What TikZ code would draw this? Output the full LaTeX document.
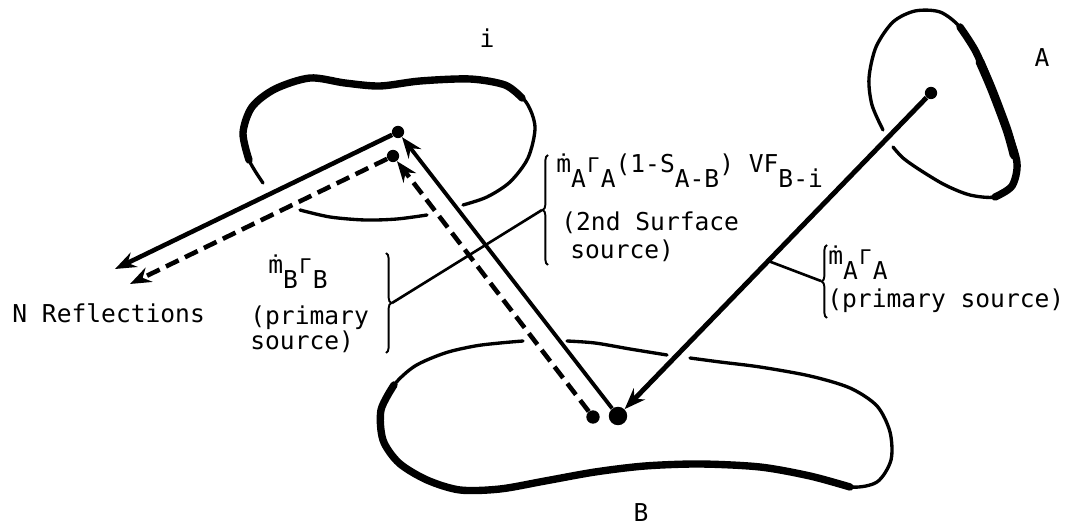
\documentclass[tikz,border=0pt]{standalone}
\usepackage{fontspec}
\setmonofont{DejaVu Sans Mono}
\usetikzlibrary{arrows.meta,calc,decorations.pathreplacing}
\newcommand{\sub}[1]{\raisebox{-0.6em}{#1}}
\newcommand{\gm}{\makebox[0.602em]{\scalebox{0.82}{Γ}}}

\begin{document}
\begin{tikzpicture}[x=0.02cm, y=-0.02cm,
      srf/.style={line width=1.9pt, line cap=round},
      srfthick/.style={line width=4.2pt, line cap=round},
      ray/.style={line width=2.6pt, -{Stealth[length=12pt,width=9pt,inset=4pt]}},
      dray/.style={ray, dash pattern=on 8pt off 4pt},
      dot/.style={circle, fill, inner sep=0pt, minimum size=7pt},
      bigdot/.style={dot, minimum size=10.5pt},
      lbl/.style={font=\ttfamily\fontsize{14}{16}\selectfont, inner sep=0pt, anchor=base west},
      brc/.style={line width=1.1pt, decorate, decoration={brace, amplitude=3pt}},
      ldr/.style={line width=1.5pt}
    ]
    \useasboundingbox (0,0) rectangle (1086,526);
    % surfaces
    \draw[srf] plot[smooth] coordinates {(263,183) (249,160) (243,133) (252,107) (275,89) (310,78) (345,83) (380,86) (420,81) (470,79) (505,85) (526,102) (535,127) (528,158) (510,182) (487,197) (463,205)};
    \draw[srfthick] plot[smooth] coordinates {(249,160) (243,133) (252,107) (275,89) (310,78) (345,83) (380,86) (420,81) (470,79) (505,85) (522,98)};
    \draw[srf] plot[smooth] coordinates {(427,215) (397,219) (365,220) (330,217) (300,210)};
    \draw[srf] plot[smooth] coordinates {(883,130) (872,105) (869,78) (876,47) (893,22) (915,11) (940,12) (960,27) (976,52) (992,90) (1007,130) (1017,163) (1012,186) (995,197) (970,195) (945,185) (920,170) (903,158) (893,147)};
    \draw[srfthick] plot[smooth] coordinates {(960,27) (976,52) (992,90) (1007,130) (1017,163) (1012,186) (995,197)};
    \draw[srfthick, line width=5pt] plot[smooth] coordinates {(980,62) (992,90) (1007,130) (1014,155)};
    \draw[srf] plot[smooth] coordinates {(523,341) (500,343) (475,346) (445,353) (415,366) (394,385) (381,410) (383,440) (399,463) (427,480) (460,490) (500,489) (545,481) (595,472) (645,466) (700,464) (760,467) (810,476) (850,487) (877,482) (891,460) (890,432) (877,406) (850,388) (810,376) (760,367) (720,362) (690,358)};
    \draw[srfthick] plot[smooth] coordinates {(394,385) (381,410) (383,440) (399,463) (427,480) (460,490) (500,489) (545,481) (595,472) (645,466) (700,464) (760,467) (810,476) (850,487)};
    \draw[srf] plot[smooth] coordinates {(667,355) (630,349) (595,343) (567,341)};
    % points and rays
    \node[dot] (pA) at (931,93) {};
    \node[bigdot] (pB) at (618,416) {};
    \node[dot, minimum size=7.6pt] (pBd) at (593,417) {};
    \node[dot] (pI) at (398,132) {};
    \node[dot] (pId) at (393,156) {};
    \coordinate (outS) at (115,269);
    \coordinate (outD) at (130,284);
    \draw[ray, line width=2.8pt] (pA) -- (pB);
    \draw[ray, line width=2.2pt] (pB) -- (pI);
    \draw[dray] (pBd) -- (pId);
    \draw[ray] (pI) -- (outS);
    \draw[dray] (pId) -- (outD);
    % labels
    \node[lbl, anchor=base] (lI) at (487,48) {i};
    \node[lbl, anchor=base] (lA) at (1042,67) {A};
    \node[lbl, anchor=base] (lB) at (641,522) {B};
    \node[lbl] (nref) at (12,323) {N Reflections};
    \node[lbl] (srf1) at (556,173) {ṁ\sub{A}\gm\sub{A}(1-S\sub{A-B}) VF\sub{B-i}};
    \node[lbl] (srf2) at (561,231) {(2nd Surface};
    \node[lbl] (srf3) at (570,259) {source)};
    \node[lbl] (mb1) at (268,274) {ṁ\sub{B}\gm\sub{B}};
    \node[lbl] (mb2) at (250,325) {(primary};
    \node[lbl] (mb3) at (250,350) {source)};
    \node[lbl] (ma1) at (828,265) {ṁ\sub{A}\gm\sub{A}};
    \node[lbl] (ma2) at (827,308) {(primary source)};
    % braces and leaders
    \draw[brc] (548,265) -- (548,155);
    \draw[brc] (386,253) -- (386,353);
    \draw[brc] (827,318) -- (827,245);
    \coordinate (tS) at (542,210);
    \coordinate (tB) at (392,303);
    \coordinate (tA) at (821,281);
    \coordinate (onAB) at ($(pA)!0.52!(pB)$);
    \draw[ldr] (tB) -- (tS);
    \draw[ldr] (tA) -- (onAB);
  \end{tikzpicture}
\end{document}
